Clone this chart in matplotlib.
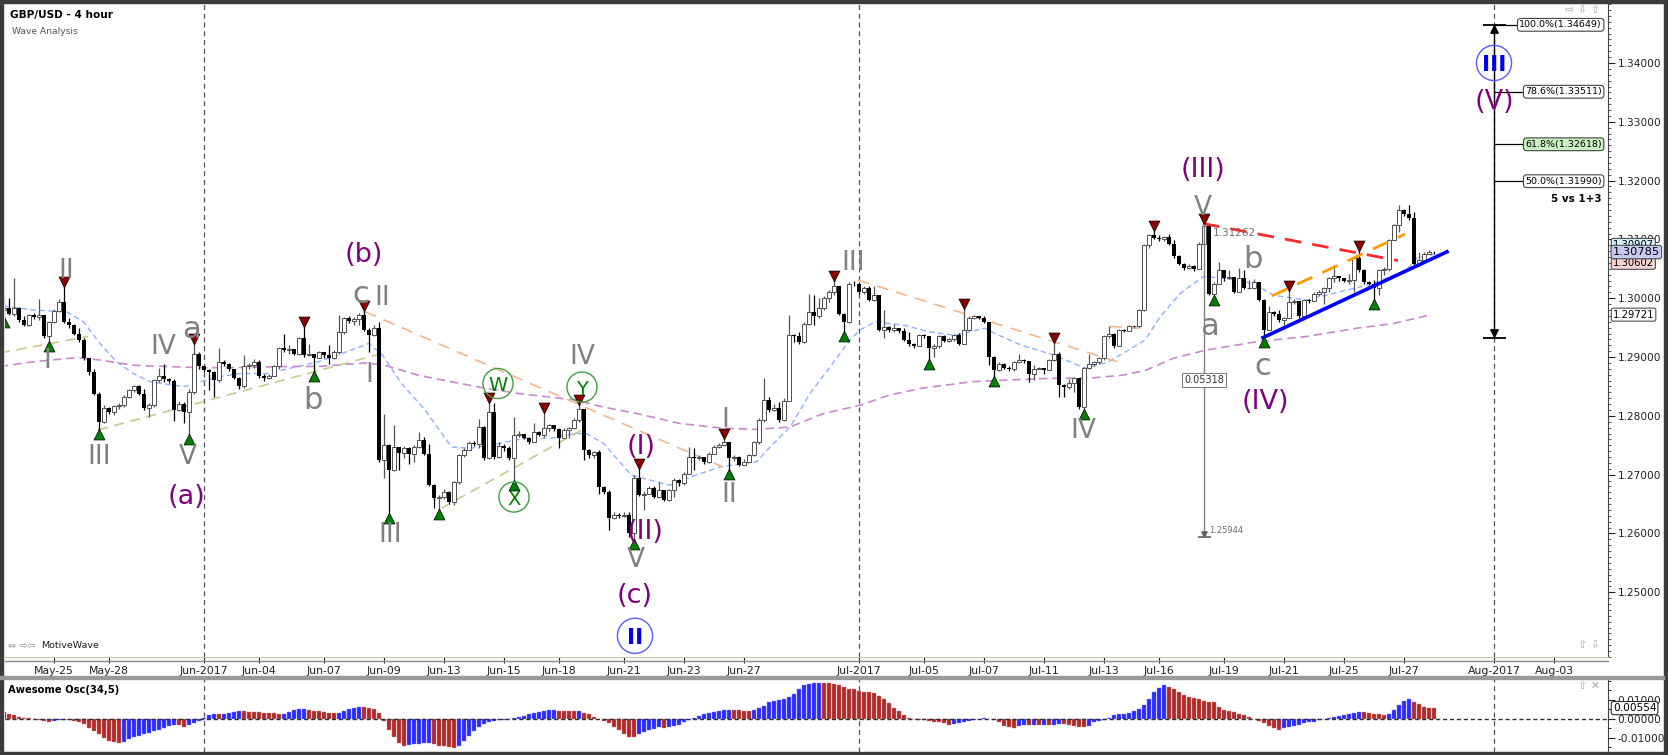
import numpy as np
import pandas as pd
import matplotlib
matplotlib.use("Agg")
import matplotlib.pyplot as plt
from matplotlib.lines import Line2D
from matplotlib.patches import Rectangle
from matplotlib.ticker import MultipleLocator, FormatStrFormatter

W, H = 1668, 755
plt.rcParams["font.family"] = ["DejaVu Sans"]

# ---- data -----------------------------------------------------------------
# prices are in pips above 1.2000 (984 -> 1.2984), one value per 4h bar
BASE = 1.2
FIRST_OPEN = 980
CLOSE = [
    984, 974, 983, 963, 954, 971, 968, 971, 935, 960, 978, 994, 960, 954, 940, 929, 898, 875, 838, 790,
    813, 807, 816, 818, 832, 844, 850, 838, 813, 818, 861, 867, 862, 860, 810, 821, 807, 841, 906, 884,
    878, 875, 861, 892, 889, 880, 864, 850, 884, 886, 892, 867, 864, 868, 884, 915, 912,
    914, 905, 932, 903, 905, 898, 909, 903, 899, 909, 943, 966, 962, 965, 971, 946, 937, 949, 725, 750,
    708, 747, 737, 745, 735, 747, 759, 736, 682, 660, 662, 671, 654, 688, 733, 742, 754, 753, 781, 728,
    807, 730, 748, 745, 728, 767, 770, 763, 755, 773, 768, 779, 784, 778, 762, 776, 779,
    793, 812, 742, 733, 739, 679, 671, 626, 631, 629, 632, 600, 694, 665, 668, 677, 662, 674, 657, 674,
    691, 686, 702, 730, 728, 730, 722, 736, 747, 750, 756, 728, 730, 716, 722, 733, 756, 793, 827, 810,
    813, 793, 825, 937, 935, 926, 957, 977, 969, 983, 1000, 1011, 1020, 974, 960, 1025, 1024,
    1011, 1017, 997, 1005, 946, 951, 946, 949, 945, 929, 922, 919, 937, 936, 915, 918, 935, 928, 930, 937,
    923, 946, 967, 969, 967, 960, 900, 878, 889, 882, 879, 892, 895, 893, 872, 880, 881, 878, 895, 906,
    852, 849, 856, 864, 815, 881, 889, 892, 898, 935, 940, 918, 946, 945, 952, 952, 980,
    1090, 1107, 1103, 1100, 1104, 1093, 1071, 1059, 1051, 1054, 1050, 1093, 1122, 1008, 1025, 1048, 1034,
    1036, 1011, 1034, 1017, 1018, 1028, 997, 946, 977, 974, 963, 966, 994, 995, 969, 997, 996, 1008,
    1011, 1017, 1034, 1037, 1034, 1030, 1031, 1068, 1048, 1028, 1025, 1017, 1048, 1050, 1099, 1124,
    1150, 1144, 1136, 1059, 1065, 1076, 1079, 1078,
]
HIGH = [
    1000, 1000, 1034, 985, 969, 973, 975, 998, 971, 962, 982, 998, 1020, 966, 956, 950, 932, 895, 880, 840,
    818, 815, 818, 822, 835, 846, 853, 852, 845, 822, 863, 881, 889, 864, 862, 825, 824, 845, 923, 908,
    886, 880, 876, 915, 895, 890, 880, 866, 903, 890, 896, 895, 872, 872, 887, 917, 940,
    920, 912, 934, 952, 923, 906, 911, 908, 920, 912, 971, 968, 970, 968, 975, 979, 950, 955, 960, 804,
    752, 784, 742, 748, 747, 750, 773, 764, 753, 685, 666, 675, 673, 690, 736, 745, 758, 757, 795, 783,
    824, 822, 756, 753, 748, 798, 774, 768, 764, 788, 775, 807, 787, 784, 779, 779, 781,
    797, 820, 810, 744, 741, 742, 680, 674, 636, 635, 636, 637, 700, 712, 672, 680, 680, 688, 674, 676,
    694, 692, 705, 747, 745, 733, 725, 739, 750, 754, 762, 756, 733, 731, 726, 736, 758, 796, 864, 832,
    820, 824, 830, 971, 940, 942, 960, 1008, 1005, 1000, 1003, 1014, 1031, 1012, 975, 1028, 1030,
    1028, 1020, 1020, 1020, 1006, 980, 952, 957, 950, 950, 943, 924, 940, 940, 936, 922, 937, 938, 933, 940,
    941, 983, 970, 972, 970, 969, 960, 902, 891, 890, 885, 894, 906, 897, 894, 886, 883, 882, 897, 926,
    908, 855, 862, 866, 864, 883, 906, 894, 900, 937, 952, 941, 948, 948, 955, 955, 982,
    1092, 1110, 1116, 1107, 1106, 1110, 1099, 1073, 1060, 1058, 1056, 1096, 1127, 1120, 1028, 1062, 1040,
    1048, 1036, 1051, 1048, 1031, 1032, 1018, 998, 986, 978, 980, 968, 1014, 998, 996, 999, 999, 1010,
    1014, 1019, 1036, 1056, 1038, 1032, 1042, 1070, 1082, 1049, 1029, 1031, 1050, 1053, 1101, 1127,
    1158, 1152, 1158, 1146, 1079, 1079, 1082, 1080,
]
LOW = [
    966, 971, 969, 960, 952, 952, 965, 963, 932, 926, 958, 976, 958, 950, 937, 926, 895, 870, 835, 776,
    788, 803, 802, 812, 815, 830, 840, 836, 810, 798, 815, 858, 858, 856, 792, 808, 788, 767, 838, 880,
    874, 844, 832, 858, 885, 877, 862, 845, 848, 880, 881, 864, 860, 862, 872, 880, 908,
    906, 903, 903, 900, 901, 875, 898, 899, 889, 896, 906, 940, 958, 955, 955, 944, 909, 935, 722, 694,
    634, 706, 708, 728, 719, 722, 745, 733, 680, 643, 640, 658, 650, 648, 685, 730, 745, 749, 745, 725,
    726, 726, 728, 740, 725, 690, 764, 760, 752, 757, 765, 764, 775, 775, 745, 762, 763,
    777, 790, 725, 728, 728, 668, 668, 606, 624, 626, 628, 594, 589, 663, 640, 668, 660, 660, 655, 655,
    662, 680, 682, 702, 708, 725, 718, 720, 736, 746, 748, 708, 724, 714, 716, 725, 731, 753, 790, 806,
    808, 790, 792, 825, 925, 922, 924, 955, 954, 967, 980, 994, 1005, 972, 943, 958, 1020,
    1008, 1008, 995, 995, 944, 932, 943, 943, 941, 927, 918, 915, 918, 932, 895, 900, 916, 925, 926, 928,
    920, 922, 944, 965, 964, 958, 886, 866, 876, 880, 876, 877, 890, 890, 858, 861, 879, 872, 880, 893,
    832, 832, 845, 840, 812, 810, 880, 884, 888, 895, 932, 915, 918, 942, 944, 949, 950,
    978, 1085, 1100, 1097, 1098, 1090, 1068, 1056, 1048, 1049, 1046, 1049, 1088, 1005, 1004, 1024, 1030,
    1032, 1009, 1015, 1015, 1015, 1016, 995, 932, 952, 970, 960, 954, 966, 990, 966, 968, 992, 995,
    1003, 991, 1010, 1028, 1030, 1027, 1025, 1011, 1045, 1025, 1022, 997, 1005, 1040, 1047, 1100,
    1113, 1140, 1133, 1056, 1055, 1063, 1075, 1076,
]
# Awesome Oscillator, units of 0.001
AO = [
    3.5, 2.5, 1.7, 1.0, 0.5, 0.2, -0.2, -0.8, -1.2, -1.5, -1.0, -0.7, -0.5, -0.7, -1.0, -1.5, -3.0, -4.7,
    -6.5, -8.3, -10.3, -11.5, -12.5, -12.8, -12.2, -10.8, -9.8, -9.0, -8.2, -7.3, -6.7, -5.8, -4.8, -4.0,
    -3.3, -3.3, -4.2, -3.5, -2.3, -1.2, 0.2, 1.7, 2.2, 2.2, 2.5, 3.0, 3.5, 3.8, 3.8, 3.5, 3.5, 3.3, 3.0,
    2.8, 2.7, 2.3, 2.5, 3.5, 4.3, 4.8, 5.2, 4.7, 4.2, 3.8, 3.5, 2.8, 2.7, 3.2, 3.8, 4.8, 5.7, 6.2, 6.2,
    5.7, 4.8, 3.0, -1.2, -5.8, -9.8, -12.8, -14.2, -13.8, -13.5, -13.2, -12.8, -12.7, -13.3, -14.2, -14.5,
    -15.0, -15.2, -14.2, -11.5, -9.2, -6.7, -4.5, -2.8, -1.8, -1.2, -0.8, -0.5, -0.2, 0.3, 0.8, 1.3, 2.2,
    3.0, 3.7, 4.2, 4.5, 4.7,
    4.2, 4.2, 3.8, 3.8, 4.2, 3.0, 2.2, 1.0, -0.3, -1.2, -2.5, -4.2, -5.8, -7.8, -9.8, -9.8, -8.2, -7.2,
    -6.2, -5.3, -4.5, -4.8, -4.2, -3.8, -3.2, -2.0, -0.8, 0.2, 1.3, 2.2, 2.8, 3.3, 3.8, 4.3, 4.7, 4.7, 4.3,
    3.8, 3.8, 4.7, 5.5, 6.8, 8.5, 9.2, 9.7, 10.2, 11.3, 13.0, 15.5, 17.5, 18.3, 18.5, 18.8, 18.8, 18.7,
    18.3, 17.5, 16.7, 15.8, 15.5, 14.5, 14.2, 14.2, 13.3, 11.8, 10.2, 8.3, 5.8, 3.8, 1.8, 0.5, -0.2, -0.5,
    -0.8, -1.2, -1.7, -2.0, -2.5, -3.2, -2.8, -2.3, -1.7, -1.2, -0.7, -0.2, 0.3, -0.3, -0.8, -2.0, -3.7,
    -4.5, -4.8, -3.8, -3.5, -3.5, -3.3, -3.3, -3.2, -3.3, -3.2, -2.8, -2.8, -3.2, -3.8, -4.2, -4.5, -3.7,
    -2.0, -1.2, -0.5, 0.5, 1.7, 2.2,
    2.5, 2.8, 3.8, 5.2, 7.2, 10.2, 13.8, 16.3, 17.5, 16.8, 15.5, 14.2, 12.2, 11.2, 10.8, 10.5, 9.5, 8.8,
    8.5, 6.3, 4.7, 4.2, 3.5, 2.5, 1.7, 0.8, 0.0, -1.2, -2.2, -3.7, -4.8, -5.8, -4.8, -4.2, -3.7, -3.2,
    -2.5, -2.0, -1.5, -0.7, 0.0, 0.5, 1.0, 1.3, 1.7, 2.2, 3.0, 3.5, 3.5, 3.0, 2.5, 2.2, 1.8, 2.5, 4.7,
    7.2, 9.2, 10.2, 8.8, 7.5, 6.3, 5.8, 5.5,
]

# moving averages: (bar, pips)
BLUE_MA_BARS = [-0.1, 5.9, 12.5, 15.9, 19.2, 22.5, 25.9, 29.2, 33.9, 36.2, 39.2, 43.2, 47.2, 52.5, 57.2,
                62.9, 69.5, 72.9, 75.5, 79.5, 84.2, 89.5, 93.5, 98.9, 104.2, 109.5, 114.2, 116.5, 119.9,
                125.5, 133.2, 137.2, 143.2, 147.9, 150.5, 153.2, 157.2, 161.2, 165.2, 169.2, 171.2, 174.2,
                180.2, 184.9, 190.2, 196.2, 198.2, 203.5, 210.2, 216.2, 220.9, 224.9, 228.2, 231.2, 235.2,
                239.9, 247.2, 250.5, 253.9, 260.5, 267.2, 273.9, 280.5, 282.5, 286]
BLUE_MA = [987, 980, 977, 960, 923, 892, 872, 858, 852, 850, 858, 867, 872, 872, 881, 892, 912, 923, 906,
           855, 810, 747, 745, 753, 762, 762, 770, 770, 753, 699, 682, 696, 713, 719, 722, 747, 781, 838,
           883, 929, 946, 960, 954, 943, 937, 949, 940, 920, 903, 881, 892, 912, 929, 968, 1008, 1037,
           1031, 1022, 1005, 997, 1011, 1025, 1048, 1068, 1075]
PINK_MA_BARS = [-0.8, 5.9, 14.5, 19.2, 25.9, 32.5, 39.2, 45.9, 57.2, 62.9, 72.2, 76.2, 82.9, 89.5, 96.2,
                102.9, 114.2, 119.9, 126.5, 135.2, 143.9, 150.5, 157.2, 163.9, 171.2, 176.9, 183.5,
                193.5, 203.5, 210.2, 216.9, 223.5, 228.2, 233.9, 240.5, 250.5, 260.5, 270.5, 277.9, 284.9]
PINK_MA = [884, 892, 899, 895, 886, 884, 882, 882, 884, 884, 890, 886, 869, 858, 847, 838, 827, 815, 804,
           787, 779, 777, 781, 804, 818, 835, 847, 858, 862, 864, 864, 869, 877, 898, 912, 926, 935, 949,
           957, 971]

FIRST_BAR = "2017-05-23 09:00"
LAST_DAY = "2017-08-04"
TICK_DATES = ["2017-05-25", "2017-05-28", "2017-06-01", "2017-06-04", "2017-06-07", "2017-06-09",
              "2017-06-13", "2017-06-15", "2017-06-18", "2017-06-21", "2017-06-23", "2017-06-27",
              "2017-07-01", "2017-07-05", "2017-07-07", "2017-07-11", "2017-07-13", "2017-07-16",
              "2017-07-19", "2017-07-21", "2017-07-25", "2017-07-27", "2017-08-01", "2017-08-03"]
MONTH_STARTS = ["2017-06-01", "2017-07-01", "2017-08-01"]

PEAK_BARS = [12, 38, 60, 72, 98, 109, 115, 127, 144, 166, 192, 211, 230, 240, 257, 271]
TROUGH_BARS = [0, 9, 19, 37, 62, 77, 87, 102, 126, 145, 168, 186, 198, 216, 241, 252, 275]

GRAY_LABELS = [("I", 8.6, 898), ("II", 12.4, 1051), ("III", 19, 736), ("IV", 31.8, 923),
               ("V", 36.7, 736), ("a", 37.5, 952), ("b", 61.8, 832), ("c", 71.4, 1011),
               ("II", 75.6, 1005), ("I", 73, 875), ("III", 77.2, 603), ("IV", 115.6, 906),
               ("V", 126.4, 560), ("I", 144.2, 798), ("II", 145, 671), ("III", 169.8, 1065),
               ("IV", 215.8, 779), ("V", 239.8, 1158), ("a", 241.2, 957), ("b", 249.8, 1071),
               ("c", 251.8, 889)]
PURPLE_LABELS = [("(a)", 36.5, 662), ("(b)", 72, 1073), ("(c)", 126.2, 494), ("(I)", 127.4, 747),
                 ("(II)", 128.2, 602), ("(III)", 239.8, 1218), ("(IV)", 252.2, 824), ("(V)", 298, 1334)]
GREEN_CIRCLES = [("W", 98.8, 855), ("X", 102, 662), ("Y", 115.6, 849)]
BLUE_CIRCLES = [("II", 126.2, 426), ("III", 298, 1400)]

OLIVE_LINES = [((-0.8, 907), (16.8, 935)), ((18.8, 776), (75.6, 906)), ((87.5, 643), (116, 778))]
SALMON_LINES = [((72.2, 977), (143.8, 713)), ((170.8, 1031), (223.8, 889)), ((221.2, 952), (226.9, 949))]
RED_LINE = ((239.8, 1127), (278.8, 1064))
ORANGE_LINE = ((253.6, 1004), (280.2, 1109))
BLUE_LINE = ((251.8, 933), (288.6, 1079))

FIB_BAR = 298
FIB_LEVELS = [("100.0%", 1.34649), ("78.6%", 1.33511), ("61.8%", 1.32618), ("50.0%", 1.31990)]
FIB_BASE = 1.29331
MEASURE_TOP, MEASURE_BOTTOM, MEASURE_BAR = 1.31262, 1.25944, 240

LAST_PRICE = 1.30785
RIGHT_TAGS = [(1.30907, "#d4eef8"), (1.30602, "#f6d4d4"), (1.30785, "#c8c8f4"), (1.29721, "white")]
AO_LAST = 0.00554

# ---- helpers -----------------------------------------------------------------
def px(v):
    return BASE + np.asarray(v, dtype=float) / 1e4


def bar_times():
    out = []
    for d in pd.date_range("2017-05-23", LAST_DAY, freq="D"):
        wd = d.dayofweek
        if wd == 5:
            continue
        hours = [21] if wd == 6 else ([1, 5, 9, 13, 17] if wd == 4 else [1, 5, 9, 13, 17, 21])
        out += [d + pd.Timedelta(hours=h) for h in hours]
    out = pd.DatetimeIndex(out)
    return out[out >= pd.Timestamp(FIRST_BAR)]


n = min(len(CLOSE), len(HIGH), len(LOW), len(AO))
times = bar_times()
close = px(CLOSE[:n])
opn = np.r_[px(FIRST_OPEN), close[:-1]]
high = np.maximum.reduce([px(HIGH[:n]), opn, close])
low = np.minimum.reduce([px(LOW[:n]), opn, close])
x = np.arange(n)
ao = np.array(AO[:n]) / 1000.0


def fx(p):
    return p / W


def fy(p):
    return 1 - p / H


fig = plt.figure(figsize=(W / 100, H / 100), dpi=100)
fig.patch.set_facecolor("white")
ax = fig.add_axes([fx(5), fy(657), fx(1608) - fx(5), fy(3) - fy(657)])
ax2 = fig.add_axes([fx(5), fy(752), fx(1608) - fx(5), fy(679) - fy(752)])

xlim = (0.2, len(times) - 0.2)
for a in (ax, ax2):
    a.set_xlim(*xlim)
    a.set_facecolor("white")
    for s in ("left", "top"):
        a.spines[s].set_visible(False)
    a.spines["right"].set_color("#404040")
ax.set_ylim(1.2390, 1.3502)
ax2.set_ylim(-0.0175, 0.0208)

# month separators
for d in MONTH_STARTS:
    pos = times.searchsorted(pd.Timestamp(d))
    for a in (ax, ax2):
        a.axvline(pos, color="#505050", lw=0.9, ls=(0, (4, 3)), zorder=1)

# moving averages
ax.plot(BLUE_MA_BARS, px(BLUE_MA), color="#8fb0ff", lw=1.0, ls=(0, (4, 2.5)), zorder=2)
ax.plot(PINK_MA_BARS, px(PINK_MA), color="#cc88cc", lw=1.2, ls=(0, (5, 3)), zorder=2)

# trend lines
for (x0, y0), (x1, y1) in OLIVE_LINES:
    ax.plot([x0, x1], px([y0, y1]), color="#c9c98f", lw=1.2, ls=(0, (6, 4)), zorder=2)
for (x0, y0), (x1, y1) in SALMON_LINES:
    ax.plot([x0, x1], px([y0, y1]), color="#f7b58a", lw=1.2, ls=(0, (7, 5)), zorder=2)
ax.plot([RED_LINE[0][0], RED_LINE[1][0]], px([RED_LINE[0][1], RED_LINE[1][1]]),
        color="#ff2a2a", lw=2, ls=(0, (6, 4)), zorder=5)
ax.plot([ORANGE_LINE[0][0], ORANGE_LINE[1][0]], px([ORANGE_LINE[0][1], ORANGE_LINE[1][1]]),
        color="#ff9a00", lw=2, ls=(0, (6, 4)), zorder=5)
ax.plot([BLUE_LINE[0][0], BLUE_LINE[1][0]], px([BLUE_LINE[0][1], BLUE_LINE[1][1]]),
        color="#0000ff", lw=2.6, zorder=5)

# candles
up = close >= opn
body_lo = np.minimum(opn, close)
body_h = np.maximum(np.abs(close - opn), 0.00006)
ax.vlines(x[up], low[up], high[up], color="#555555", lw=0.9, zorder=3)
ax.vlines(x[~up], low[~up], high[~up], color="black", lw=0.9, zorder=3)
ax.bar(x[up], body_h[up], bottom=body_lo[up], width=0.62, facecolor="white",
       edgecolor="#505050", lw=0.7, zorder=4)
ax.bar(x[~up], body_h[~up], bottom=body_lo[~up], width=0.62, color="black", zorder=4)

# swing markers
for b in PEAK_BARS:
    j = b - 1 + int(np.argmax(high[b - 1:b + 2]))
    ax.scatter(j, high[j] + 0.0007, marker="v", s=62, color="#8b0000", edgecolor="black",
               lw=0.5, zorder=6)
for b in TROUGH_BARS:
    lo = max(b - 1, 0)
    j = lo + int(np.argmin(low[lo:b + 2]))
    ax.scatter(j, low[j] - 0.0007, marker="^", s=62, color="#008000", edgecolor="black",
               lw=0.5, zorder=6)

# wave labels
for t, b, p in GRAY_LABELS:
    fs = 22 if t.islower() else 19
    ax.text(b, px(p), t, color="#808080", fontsize=fs, ha="center", va="center_baseline", zorder=7)
for t, b, p in PURPLE_LABELS:
    ax.text(b, px(p), t, color="#800080", fontsize=19.5, ha="center", va="center", zorder=7)
for t, b, p in GREEN_CIRCLES:
    ax.scatter(b, px(p), s=470, facecolors="none", edgecolors="#3fa03f", lw=1, zorder=7)
    ax.text(b, px(p), t, color="#008000", fontsize=14, ha="center", va="center_baseline", zorder=7)
for t, b, p in BLUE_CIRCLES:
    ax.scatter(b, px(p), s=640, facecolors="none", edgecolors="#5a5aff", lw=1, zorder=7)
    ax.text(b, px(p), t, color="#0000ee", fontsize=16, fontweight="bold", ha="center",
            va="center_baseline", zorder=7)

# measure tool
ax.vlines(MEASURE_BAR, MEASURE_BOTTOM, MEASURE_TOP, color="#808080", lw=1, zorder=6)
ax.hlines(MEASURE_BOTTOM, MEASURE_BAR - 1.3, MEASURE_BAR + 1.3, color="#606060", lw=1.2, zorder=6)
ax.scatter(MEASURE_BAR, MEASURE_BOTTOM + 0.0005, marker="v", s=14, color="#606060", zorder=6)
ax.text(MEASURE_BAR + 1.8, MEASURE_TOP - 0.0016, f"{MEASURE_TOP:.5f}", color="#707070", fontsize=7.5,
        va="center", zorder=6)
ax.text(MEASURE_BAR + 1.0, MEASURE_BOTTOM + 0.0011, f"{MEASURE_BOTTOM:.5f}", color="#707070",
        fontsize=6, va="center", zorder=6)
ax.text(MEASURE_BAR, px(861), f"{MEASURE_TOP - MEASURE_BOTTOM:.5f}", color="#333333", fontsize=7,
        ha="center", va="center", zorder=8,
        bbox=dict(boxstyle="square,pad=0.25", fc="white", ec="#808080", lw=0.8))

# fibonacci projection
top = FIB_LEVELS[0][1]
ax.vlines(FIB_BAR, FIB_BASE, top, color="black", lw=1, zorder=6)
ax.hlines([FIB_BASE, top], FIB_BAR - 2.3, FIB_BAR + 2.3, color="black", lw=1.3, zorder=6)
ax.scatter(FIB_BAR, top - 0.0007, marker="^", s=28, color="black", zorder=6)
ax.scatter(FIB_BAR, FIB_BASE + 0.0007, marker="v", s=28, color="black", zorder=6)
for name, lvl in FIB_LEVELS:
    ax.hlines(lvl, FIB_BAR, FIB_BAR + 7, color="black", lw=0.9, zorder=6)
    face = "#c8f0c0" if name == "61.8%" else "white"
    ax.text(319.6, lvl, f"{name}({lvl:.5f})", fontsize=6.8, ha="right", va="center", zorder=8,
            bbox=dict(boxstyle="round,pad=0.2,rounding_size=0.35", fc=face, ec="#444444", lw=0.8))
ax.text(319.6, px(1168), "5 vs 1+3", fontsize=7.5, fontweight="bold", ha="right", va="center")

# price axis
ax.yaxis.tick_right()
ax.set_yticks(np.arange(1.25, 1.3405, 0.01))
ax.yaxis.set_major_formatter(FormatStrFormatter("%.5f"))
ax.yaxis.set_minor_locator(MultipleLocator(0.001))
ax.tick_params(axis="y", which="major", labelsize=7.6, length=5, pad=2, colors="#202020")
ax.tick_params(axis="y", which="minor", length=2.5, colors="#404040")
ytr = ax.get_yaxis_transform()
for val, face in RIGHT_TAGS:
    big = val == LAST_PRICE
    ax.text(1.003, val, f"{val:.5f}", transform=ytr, ha="left", va="center",
            fontsize=8.2 if big else 7.2, zorder=11 if big else 10, clip_on=False,
            bbox=dict(boxstyle="round,pad=0.15,rounding_size=0.2", fc=face, ec="#505050", lw=0.8))

# date axis
tick_pos = [times.searchsorted(pd.Timestamp(d)) for d in TICK_DATES]
tick_lab = [pd.Timestamp(d).strftime("%b-%Y" if pd.Timestamp(d).day == 1 else "%b-%d")
            for d in TICK_DATES]
ax.set_xticks(tick_pos)
ax.set_xticklabels(tick_lab)
ax.tick_params(axis="x", labelsize=7.8, length=4, pad=2.5, colors="#202020")
ax.spines["bottom"].set_color("#c8c4a8")

# awesome oscillator
rising = np.r_[False, np.diff(ao) > 0]
ax2.bar(x[rising], ao[rising], width=0.72, color="#2a2aff", edgecolor="#8080ff", lw=0.3, zorder=3)
ax2.bar(x[~rising], ao[~rising], width=0.72, color="#b02a2a", edgecolor="#d08080", lw=0.3, zorder=3)
ax2.axhline(0, color="#303030", lw=1, ls=(0, (3, 2)), zorder=4)
ax2.yaxis.tick_right()
ax2.set_yticks([-0.01, 0.0, 0.01])
ax2.yaxis.set_major_formatter(FormatStrFormatter("%.5f"))
ax2.yaxis.set_minor_locator(MultipleLocator(0.005))
ax2.tick_params(axis="y", which="major", labelsize=7.6, length=5, pad=2, colors="#202020")
ax2.tick_params(axis="y", which="minor", length=2.5)
ax2.set_xticks([])
ax2.spines["bottom"].set_visible(False)
ax2.text(1.003, AO_LAST, f"{AO_LAST:.5f}", transform=ax2.get_yaxis_transform(), ha="left",
         va="center", fontsize=7.6, zorder=10, clip_on=False,
         bbox=dict(boxstyle="round,pad=0.15,rounding_size=0.2", fc="white", ec="#303030", lw=0.8))

# frame and captions
for (x0, y0, w, h, c) in [(0, 0, 3, H, "#3c3c3c"), (0, 0, W, 3, "#3c3c3c"), (W - 4, 0, 4, H, "#3c3c3c"),
                          (0, H - 3, W, 3, "#3c3c3c"), (0, 676, W - 4, 2.5, "#9a9a9a")]:
    fig.patches.append(Rectangle((fx(x0), fy(y0 + h)), w / W, h / H, transform=fig.transFigure,
                                 color=c, zorder=20))
fig.lines.append(Line2D([fx(5), fx(1608)], [fy(661), fy(661)], transform=fig.transFigure,
                        color="#8a8a8a", lw=1))
fig.text(fx(10), fy(15), "GBP/USD - 4 hour", fontsize=7.6, fontweight="bold", va="center")
fig.text(fx(12), fy(32), "Wave Analysis", fontsize=6.6, color="#555555", va="center")
fig.text(fx(8), fy(646), "\u21d4 \u21e8\u21e6", fontsize=7, color="#999999", va="center")
fig.text(fx(41), fy(646), "MotiveWave", fontsize=6.8, color="#202020", va="center")
fig.text(fx(8), fy(690), "Awesome Osc(34,5)", fontsize=7.2, fontweight="bold", va="center")
fig.text(fx(1600), fy(10), "\u21e8 \u21e9 \u21e7", fontsize=8, color="#aaaaaa", ha="right", va="center")
fig.text(fx(1600), fy(645), "\u21e7 \u21e9", fontsize=8, color="#aaaaaa", ha="right", va="center")
fig.text(fx(1600), fy(686), "\u21e7 \u2715", fontsize=8, color="#aaaaaa", ha="right", va="center")

fig.savefig("out.png", dpi=100, facecolor="white")
